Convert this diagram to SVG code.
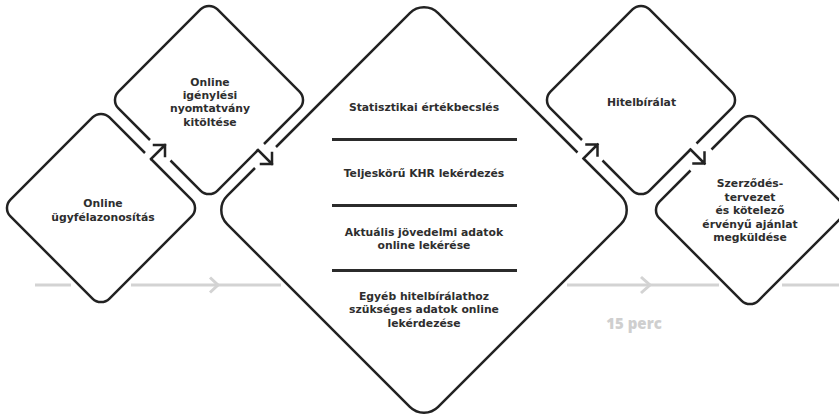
<svg xmlns="http://www.w3.org/2000/svg" width="839" height="414" viewBox="0 0 839 414">
<style>
.edge{fill:none;stroke:#222;stroke-width:2.5;stroke-linecap:butt;stroke-linejoin:round}
.conn{fill:none;stroke:#222;stroke-width:2.5;stroke-linecap:square;stroke-linejoin:miter}
.sep{stroke:#2b2b2b;stroke-width:2.8}
.tl{fill:none;stroke:#d3d3d3;stroke-width:3;stroke-linecap:butt;stroke-linejoin:miter}
.t{font-family:"DejaVu Sans","Open Sans",sans-serif;font-weight:700;font-size:10.8px;fill:#2e2e2e;text-anchor:middle}
.perc{font-family:"Open Sans","Liberation Sans",sans-serif;font-weight:800;font-size:15px;fill:#cfcfcf;text-anchor:middle}
</style>
<rect width="839" height="414" fill="#fff"/>
<g id="timeline">
<path class="tl" d="M35 285H71 M131 285H281 M567 285H719 M782 285H839"/>
<path class="tl" d="M210 277.5L218 285L210 292.5 M641 277L650 285L641 293"/>
<text class="perc" x="634" y="328.5">15 perc</text>
</g>
<g id="node1">
<path class="edge" d="M151 159L191.51 199.51A12 12 0 0 1 191.51 216.49L109.49 298.51A12 12 0 0 1 92.51 298.51L10.49 216.49A12 12 0 0 1 10.49 199.51L92.51 117.49A12 12 0 0 1 109.49 117.49L145 153"/>
<text class="t" x="103" y="207">Online</text>
<text class="t" x="103" y="220.5">ügyfélazonosítás</text>
</g>
<g id="node2">
<path class="edge" d="M258 150L217.51 190.51A12 12 0 0 1 200.51 190.51L170.5 160.5M150 140L118.49 108.49A12 12 0 0 1 118.49 91.51L200.51 9.49A12 12 0 0 1 217.51 9.49L299.51 91.51A12 12 0 0 1 299.51 108.49L264 144"/>
<text class="t" x="210" y="85.5">Online</text>
<text class="t" x="210" y="99">igénylési</text>
<text class="t" x="210" y="112.3">nyomtatvány</text>
<text class="t" x="210" y="125.6">kitöltése</text>
</g>
<g id="node3">
<path class="edge" d="M583.5 158.5L620.86 195.86A20 20 0 0 1 620.86 224.14L438.14 406.86A20 20 0 0 1 409.86 406.86L227.14 224.14A20 20 0 0 1 227.14 195.86L255 168M276 147L409.86 13.14A20 20 0 0 1 438.14 13.14L577.5 152.5"/>
<text class="t" x="424" y="110.5">Statisztikai értékbecslés</text>
<line class="sep" x1="332" y1="139.5" x2="517" y2="139.5"/>
<text class="t" x="424" y="177">Teljeskörű KHR lekérdezés</text>
<line class="sep" x1="332" y1="205.5" x2="517" y2="205.5"/>
<text class="t" x="424" y="235.5">Aktuális jövedelmi adatok</text>
<text class="t" x="424" y="249">online lekérése</text>
<line class="sep" x1="332" y1="270.5" x2="517" y2="270.5"/>
<text class="t" x="424" y="299.5">Egyéb hitelbírálathoz</text>
<text class="t" x="424" y="313">szükséges adatok online</text>
<text class="t" x="424" y="326.5">lekérdezése</text>
</g>
<g id="node4">
<path class="edge" d="M690.5 149.5L649.51 190.51A12 12 0 0 1 632.51 190.51L602.5 160.5M582 140L550.49 108.49A12 12 0 0 1 550.49 91.51L632.51 9.49A12 12 0 0 1 649.51 9.49L731.51 91.51A12 12 0 0 1 731.51 108.49L696.5 143.5"/>
<text class="t" x="641.5" y="105.5">Hitelbírálat</text>
</g>
<g id="node5">
<path class="edge" d="M711.5 149.5L741.51 119.49A12 12 0 0 1 758.51 119.49L840.51 201.51A12 12 0 0 1 840.51 218.49L758.51 300.51A12 12 0 0 1 741.51 300.51L659.49 218.49A12 12 0 0 1 659.49 201.51L690.5 170.5"/>
<text class="t" x="750" y="187">Szerződés-</text>
<text class="t" x="750" y="200.5">tervezet</text>
<text class="t" x="750" y="214">és kötelező</text>
<text class="t" x="750" y="227.5">érvényű ajánlat</text>
<text class="t" x="750" y="241">megküldése</text>
</g>
<g id="connectors">
<path class="conn" d="M151 159L165 145M154 145H165V156"/>
<path class="conn" d="M258 150L272 164M272 153V164H261"/>
<path class="conn" d="M583.5 158.5L597.5 144.5M586.5 144.5H597.5V155.5"/>
<path class="conn" d="M690.5 149.5L704.5 163.5M704.5 152.5V163.5H693.5"/>
</g>
</svg>
